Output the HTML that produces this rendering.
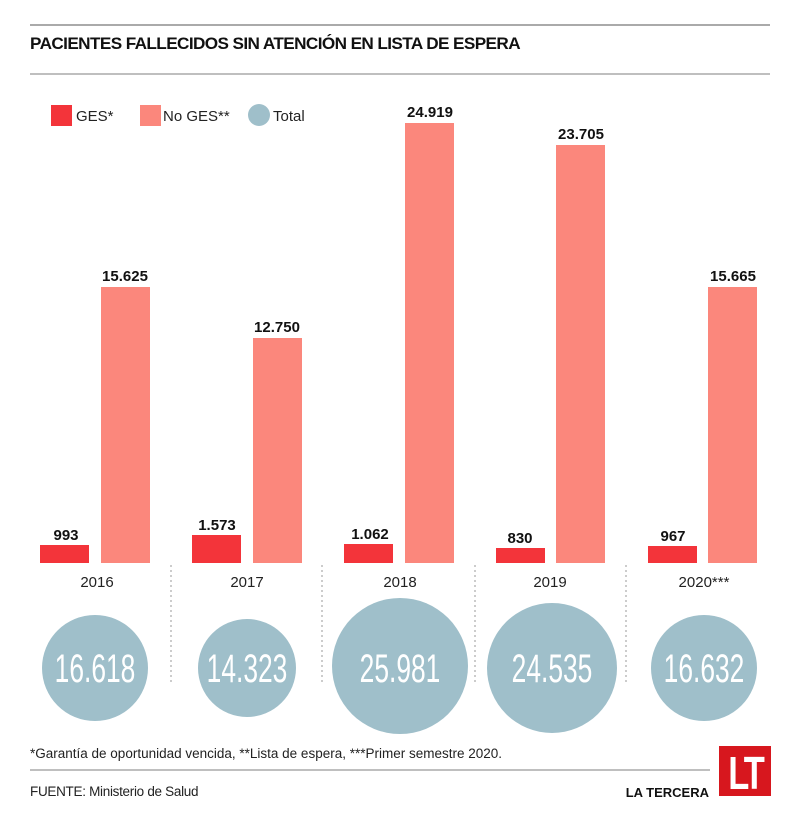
<!DOCTYPE html>
<html><head><meta charset="utf-8"><style>
body{margin:0;background:#fff;width:800px;height:823px;overflow:hidden;font-family:"Liberation Sans",sans-serif}
</style></head><body>
<svg width="800" height="823" xmlns="http://www.w3.org/2000/svg" font-family="Liberation Sans, sans-serif">
<line x1="30" y1="25" x2="770" y2="25" stroke="#777" stroke-width="1.2"/>
<text x="30" y="49" font-size="17" font-weight="bold" fill="#111" letter-spacing="-0.6" textLength="490" lengthAdjust="spacingAndGlyphs">PACIENTES FALLECIDOS SIN ATENCIÓN EN LISTA DE ESPERA</text>
<line x1="30" y1="74" x2="770" y2="74" stroke="#999" stroke-width="1.2"/>
<rect x="51" y="105" width="21" height="21" fill="#f3343a"/>
<text x="76" y="121" font-size="15" fill="#222">GES*</text>
<rect x="140" y="105" width="21" height="21" fill="#fb877c"/>
<text x="163" y="121" font-size="15" fill="#222">No GES**</text>
<circle cx="259" cy="115" r="11" fill="#9fbfca"/>
<text x="273" y="121" font-size="15" fill="#222">Total</text>
<g fill="#f3343a">
<rect x="40" y="545" width="49" height="18"/><rect x="192" y="535" width="49" height="28"/><rect x="344" y="544" width="49" height="19"/><rect x="496" y="548" width="49" height="15"/><rect x="648" y="546" width="49" height="17"/></g>
<g fill="#fb877c">
<rect x="101" y="287" width="49" height="276"/><rect x="253" y="338" width="49" height="225"/><rect x="405" y="123" width="49" height="440"/><rect x="556" y="145" width="49" height="418"/><rect x="708" y="287" width="49" height="276"/></g>
<g font-size="15" font-weight="bold" fill="#111" text-anchor="middle">
<text x="66" y="540">993</text><text x="125" y="281">15.625</text>
<text x="217" y="530">1.573</text><text x="277" y="332">12.750</text>
<text x="370" y="539">1.062</text><text x="430" y="117">24.919</text>
<text x="520" y="543">830</text><text x="581" y="139">23.705</text>
<text x="673" y="541">967</text><text x="733" y="281">15.665</text>
</g>
<g font-size="15" fill="#222" text-anchor="middle">
<text x="97" y="587">2016</text><text x="247" y="587">2017</text><text x="400" y="587">2018</text><text x="550" y="587">2019</text><text x="704" y="587">2020***</text></g>
<g stroke="#aaa" stroke-dasharray="2,3" stroke-width="1.2">
<line x1="171" y1="565" x2="171" y2="685"/><line x1="322" y1="565" x2="322" y2="685"/><line x1="475" y1="565" x2="475" y2="685"/><line x1="626" y1="565" x2="626" y2="685"/></g>
<g fill="#9fbfca">
<circle cx="95" cy="668" r="53"/><circle cx="247" cy="668" r="49"/><circle cx="400" cy="666" r="68"/><circle cx="552" cy="668" r="65"/><circle cx="704" cy="668" r="53"/></g>
<g font-size="40" fill="#fff" text-anchor="middle">
<text transform="translate(95,682) scale(0.66,1)">16.618</text>
<text transform="translate(247,682) scale(0.66,1)">14.323</text>
<text transform="translate(400,682) scale(0.66,1)">25.981</text>
<text transform="translate(552,682) scale(0.66,1)">24.535</text>
<text transform="translate(704,682) scale(0.66,1)">16.632</text>
</g>
<text x="30" y="758" font-size="13.5" fill="#222">*Garantía de oportunidad vencida, **Lista de espera, ***Primer semestre 2020.</text>
<line x1="30" y1="770" x2="710" y2="770" stroke="#999" stroke-width="1.2"/>
<text x="30" y="796" font-size="13.5" fill="#222" letter-spacing="-0.3">FUENTE: Ministerio de Salud</text>
<text x="709" y="797" font-size="13" font-weight="bold" fill="#111" text-anchor="end">LA TERCERA</text>
<rect x="719" y="746" width="52" height="50" fill="#d7171e"/>
<text x="745" y="789" font-size="46" font-weight="bold" fill="#fff" text-anchor="middle" transform="translate(745,0) scale(0.75,1) translate(-745,0)" letter-spacing="-4">LT</text>
</svg>
</body></html>
